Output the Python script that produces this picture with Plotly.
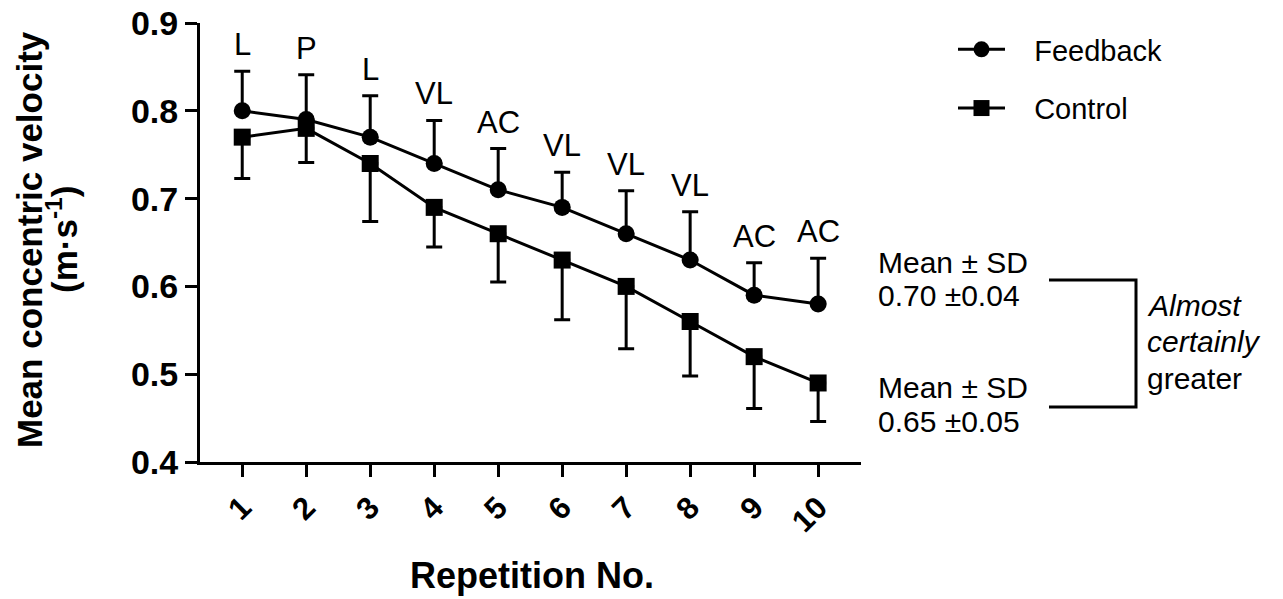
import plotly.graph_objects as go

reps = [1, 2, 3, 4, 5, 6, 7, 8, 9, 10]
rep_labels = ["1", "2", "3", "4", "5", "6", "7", "8", "9", "10"]
feedback = [0.80, 0.79, 0.77, 0.74, 0.71, 0.69, 0.66, 0.63, 0.59, 0.58]
feedback_sd = [0.045, 0.051, 0.047, 0.049, 0.047, 0.040, 0.049, 0.055, 0.037, 0.052]
control = [0.77, 0.78, 0.74, 0.69, 0.66, 0.63, 0.60, 0.56, 0.52, 0.49]
control_sd = [0.047, 0.039, 0.066, 0.045, 0.055, 0.068, 0.071, 0.062, 0.059, 0.044]
effect_labels = ["L", "P", "L", "VL", "AC", "VL", "VL", "VL", "AC", "AC"]
y_ticks = [0.4, 0.5, 0.6, 0.7, 0.8, 0.9]

FONT = "Liberation Sans, Arial, sans-serif"
W, H = 1283, 599
L, T = 200, 23
R = W - 861
B = H - 462
PW, PH = W - L - R, H - T - B


def px(xp):
    return (xp - L) / PW


def py(yp):
    return (H - B - yp) / PH


GAP = "&nbsp;&nbsp;&nbsp;"

fig = go.Figure()
fig.add_trace(go.Scatter(
    x=reps, y=feedback, name=GAP + "Feedback", mode="lines+markers",
    line=dict(color="black", width=3),
    marker=dict(symbol="circle", size=17, color="black"),
    error_y=dict(type="data", symmetric=False, array=feedback_sd,
                 arrayminus=[0] * len(feedback_sd), color="black",
                 thickness=3, width=8),
    legendgroup="fb",
))
fig.add_trace(go.Scatter(
    x=reps, y=control, name=GAP + "Control", mode="lines+markers",
    line=dict(color="black", width=3),
    marker=dict(symbol="square", size=17, color="black"),
    error_y=dict(type="data", symmetric=False, array=[0] * len(control_sd),
                 arrayminus=control_sd, color="black", thickness=3, width=8),
    legendgroup="ct",
))

annotations = []
for xv, yv, sd, lab in zip(reps, feedback, feedback_sd, effect_labels):
    annotations.append(dict(
        x=xv, y=yv + sd, xref="x", yref="y", text=lab, showarrow=False,
        yanchor="bottom", xanchor="center", yshift=7,
        font=dict(family=FONT, size=31, color="black"),
    ))

# Axis titles
annotations.append(dict(
    x=px(30), y=py(240), xref="paper", yref="paper",
    text="Mean concentric velocity",
    textangle=-90, showarrow=False, xanchor="center", yanchor="middle",
    font=dict(family=FONT, size=35, color="black", weight="bold"),
))
annotations.append(dict(
    x=px(62), y=py(240), xref="paper", yref="paper",
    text="(m·s<sup>-1</sup>)",
    textangle=-90, showarrow=False, xanchor="center", yanchor="middle",
    font=dict(family=FONT, size=35, color="black", weight="bold"),
))
annotations.append(dict(
    x=px(532), y=py(575), xref="paper", yref="paper", text="Repetition No.",
    showarrow=False, xanchor="center", yanchor="middle",
    font=dict(family=FONT, size=36, color="black", weight="bold"),
))

# Summary texts
for txt, yc in [("Mean ± SD", 262), ("0.70 ±0.04", 295),
                ("Mean ± SD", 387), ("0.65 ±0.05", 421)]:
    annotations.append(dict(
        x=px(876), y=py(yc), xref="paper", yref="paper", text=txt,
        showarrow=False, xanchor="left", yanchor="middle",
        font=dict(family=FONT, size=30, color="black"),
    ))
for txt, yc in [("<i>Almost</i>", 305), ("<i>certainly</i>", 341),
                ("greater", 378)]:
    annotations.append(dict(
        x=px(1145), y=py(yc), xref="paper", yref="paper", text=txt,
        showarrow=False, xanchor="left", yanchor="middle",
        font=dict(family=FONT, size=30, color="black"),
    ))

shapes = [dict(
    type="path", xref="paper", yref="paper",
    path=f"M {px(1049)} {py(280)} L {px(1136)} {py(280)} "
         f"L {px(1136)} {py(407)} L {px(1049)} {py(407)}",
    line=dict(color="black", width=3),
)]

fig.update_layout(
    width=W, height=H,
    margin=dict(l=L, r=R, t=T, b=B, pad=0, autoexpand=False),
    plot_bgcolor="white", paper_bgcolor="white",
    font=dict(family=FONT, color="black"),
    showlegend=True,
    legend=dict(
        x=px(953), y=py(24), xanchor="left", yanchor="top",
        font=dict(family=FONT, size=29, color="black"),
        bgcolor="rgba(0,0,0,0)", tracegroupgap=18, itemwidth=47,
    ),
    annotations=annotations,
    shapes=shapes,
    xaxis=dict(
        range=[0.34, 10.67], tickmode="array", tickvals=reps,
        ticktext=rep_labels, tickangle=-45, automargin=False,
        ticklabeloverflow="allow",
        showline=True, linecolor="black", linewidth=3,
        ticks="outside", ticklen=12, tickwidth=3, tickcolor="black",
        showgrid=False, zeroline=False,
        tickfont=dict(family=FONT, size=31, color="black", weight="bold"),
    ),
    yaxis=dict(
        range=[0.4, 0.9], tickmode="array", tickvals=y_ticks,
        ticktext=[f"{v:.1f}" for v in y_ticks], automargin=False,
        ticklabeloverflow="allow",
        showline=True, linecolor="black", linewidth=3,
        ticks="outside", ticklen=12, tickwidth=3, tickcolor="black",
        showgrid=False, zeroline=False,
        tickfont=dict(family=FONT, size=34, color="black", weight="bold"),
    ),
)

fig.write_html("out.html", config={"displayModeBar": False},
               post_script="document.body.style.margin='0px';"
                           "document.body.style.overflow='hidden';")
